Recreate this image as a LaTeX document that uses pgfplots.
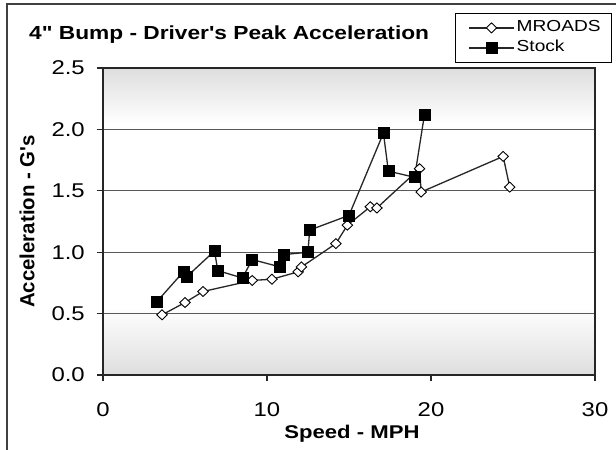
\documentclass[border=0pt]{standalone}
\usepackage{fontspec}
\setmainfont{Liberation Sans}[FakeStretch=1.2, Ligatures=TeXOff]
\newfontfamily\ylabfont{Liberation Sans}[Ligatures=TeXOff]
\usepackage{pgfplots}
\pgfplotsset{compat=1.18}
\definecolor{bgg}{gray}{0.87}
\definecolor{ln}{gray}{0.15}
\definecolor{gridc}{gray}{0.35}
\pgfdeclareverticalshading{plotbg}{100bp}{color(0bp)=(bgg); color(25bp)=(bgg);
  color(36bp)=(white); color(66bp)=(white); color(75bp)=(bgg); color(100bp)=(bgg)}

% speed (mph) vs peak acceleration (g)
\pgfplotstableread{
x y
3.6 0.49
5.0 0.59
6.1 0.68
9.1 0.77
10.3 0.78
11.9 0.84
12.1 0.88
14.2 1.07
14.9 1.22
16.3 1.37
16.7 1.36
19.3 1.68
19.4 1.49
24.4 1.78
24.8 1.53
}\mroads
\pgfplotstableread{
x y
3.3 0.60
4.9 0.84
5.1 0.80
6.8 1.01
7.0 0.85
8.5 0.79
9.1 0.94
10.8 0.88
11.0 0.98
12.5 1.00
12.6 1.18
15.0 1.30
17.1 1.97
17.4 1.66
19.0 1.61
19.6 2.12
}\stock

\begin{document}
\begin{tikzpicture}
\useasboundingbox (0,0) rectangle (616bp,450bp);
\fill[white] (0,0) rectangle (616bp,450bp);
\draw[line width=1.2bp,black!75] (7bp,0) -- (7bp,446bp) -- (616bp,446bp);
\node[anchor=base west,inner sep=0pt,font=\fontsize{19}{22}\selectfont\bfseries]
  at (29bp,410bp) {4" Bump - Driver's Peak Acceleration};
\begin{axis}[
  at={(103bp,75bp)}, anchor=south west, scale only axis,
  width=492bp, height=307bp,
  xmin=0, xmax=30, ymin=0, ymax=2.5,
  xtick={0,10,20,30}, ytick={0,0.5,...,2.5},
  axis line style={black!85,line width=1.3bp},
  tick style={black!85,line width=1.1bp},
  tick align=outside, major tick length=6bp,
  xtick pos=bottom, ytick pos=left,
  ymajorgrids, grid style={gridc,line width=1bp},
  axis background/.style={shading=plotbg},
  tick label style={font=\fontsize{20}{22}\selectfont},
  /pgf/number format/assume math mode=true,
  yticklabel style={/pgf/number format/fixed,/pgf/number format/fixed zerofill,
    /pgf/number format/precision=1, xshift=-8.7bp},
  xticklabel style={yshift=-17.7bp},
  xlabel={\bfseries Speed - MPH},
  xlabel style={font=\fontsize{18.5}{20}\selectfont, anchor=base,
    at={(axis description cs:0.506,-0.208)}},
  ylabel={\ylabfont\bfseries Acceleration - G's},
  ylabel style={font=\fontsize{20.5}{22}\selectfont, anchor=center,
    at={(axis description cs:-0.1545,0.5)}},
  legend style={at={(axis description cs:0.7154,1.1792)}, anchor=north west,
    draw=black, line width=0.8bp, inner xsep=13bp, inner ysep=5.5bp,
    font=\fontsize{16}{18}\selectfont, row sep=2bp,
    nodes={text width=80bp, text height=11bp, text depth=3bp, inner sep=2bp}},
  legend cell align=left,
  legend image code/.code={\draw[mark repeat=2,mark phase=2,#1]
    plot coordinates {(0bp,0bp) (22.5bp,0bp) (45bp,0bp)};},
]
\addplot[ln, line width=1.3bp, mark=diamond*, mark size=5bp,
  mark options={fill=white, draw=black, line width=0.9bp, xscale=1.4}]
  table[x=x,y=y] {\mroads};
\addlegendentry{MROADS}
\addplot[ln, line width=1.3bp, mark=square*, mark size=5.5bp,
  mark options={fill=black, draw=black, line width=0.6bp}]
  table[x=x,y=y] {\stock};
\addlegendentry{Stock}
\end{axis}
\end{tikzpicture}
\end{document}
